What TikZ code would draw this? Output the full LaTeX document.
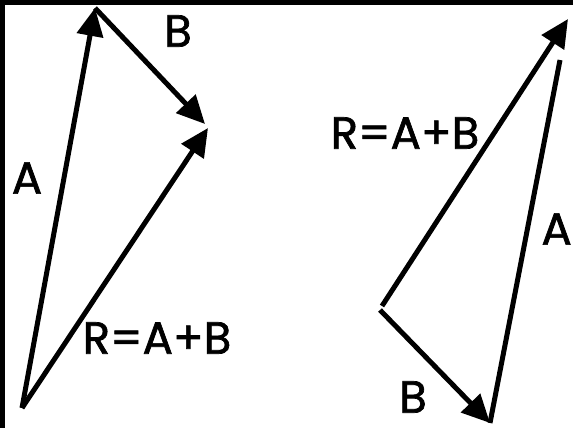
\documentclass[tikz,border=0pt]{standalone}
\usepackage{fontspec}
\setmainfont{Poppins}
\usetikzlibrary{arrows.meta}
\tikzset{
  vec/.style={line width=5pt, -{Triangle[length=28pt,width=26pt]}},
  plain/.style={line width=5pt},
  lbl/.style={inner sep=0pt, font=\fontsize{45}{45}\selectfont\addfontfeatures{FakeBold=1.5}}
}
\begin{document}
\begin{tikzpicture}[x=1pt,y=-1pt]
\useasboundingbox (0,0) rectangle (573,428);
\clip (0,0) rectangle (573,428);
\fill[white] (0,0) rectangle (573,428);
\fill[black] (0,0) rectangle (573,5);
\fill[black] (0,0) rectangle (5,428);
% left figure
\coordinate (LO) at (22,408);
\coordinate (LA) at (95,8);
\coordinate (LB) at (205,124);
\coordinate (LR) at (208,128);
\draw[vec] (LO) -- (LA);
\draw[vec] (LA) -- (LB);
\draw[vec] (LO) -- (LR);
\node[lbl] (lA) at (27,178) {A};
\node[lbl] (lB) at (178,31) {B};
\node[lbl] (lR) at (157,338) {R=A+B};
% right figure
\coordinate (RO) at (380,310);
\coordinate (RO2) at (382,306);
\coordinate (RB) at (490,423);
\coordinate (RT) at (568,19);
\coordinate (RA) at (560,60);
\draw[vec] (RO) -- (RB);
\draw[plain] (RB) -- (RA);
\draw[vec] (RO2) -- (RT);
\node[lbl] (rR) at (405,133) {R=A+B};
\node[lbl, anchor=east] (rA) at (572,229) {A};
\node[lbl] (rB) at (413,397) {B};
\end{tikzpicture}
\end{document}
